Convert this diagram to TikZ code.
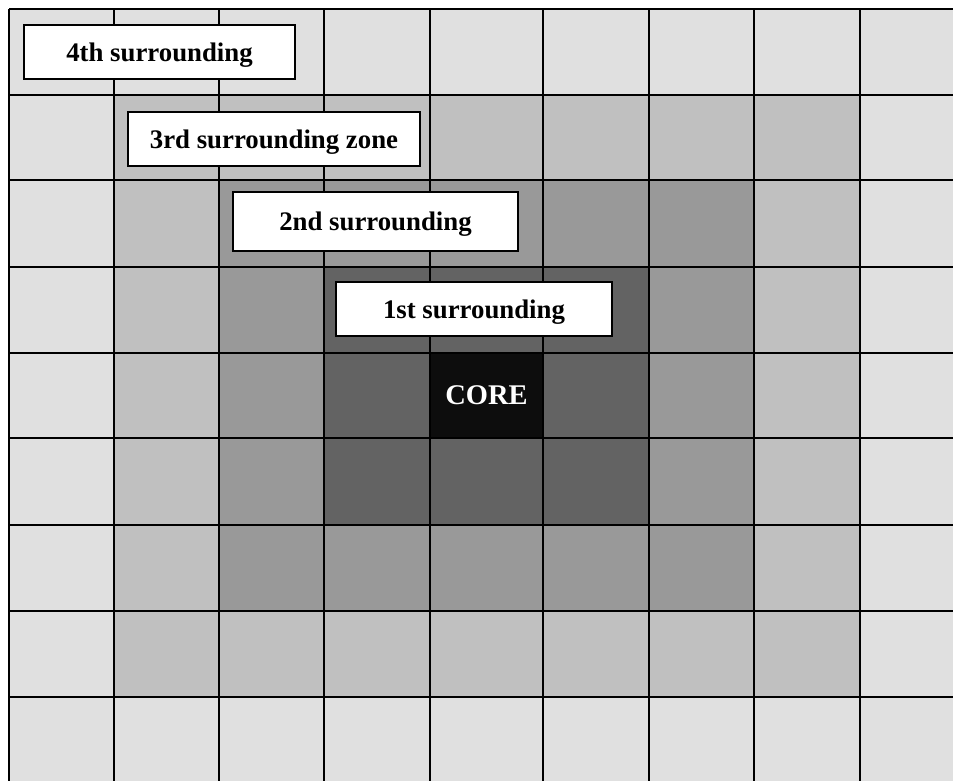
\documentclass[tikz,border=0pt]{standalone}
\usepackage{fontspec}
\setmainfont{Liberation Serif}
\definecolor{lv0}{HTML}{0D0D0D}
\definecolor{lv1}{HTML}{636363}
\definecolor{lv2}{HTML}{999999}
\definecolor{lv3}{HTML}{C0C0C0}
\definecolor{lv4}{HTML}{E0E0E0}
\begin{document}
\begin{tikzpicture}[x=1pt,y=-1pt,
  zonelabel/.style={draw=black, line width=1.6pt, fill=white, inner sep=0pt,
    text depth=0pt, font=\fontsize{26.8}{30}\selectfont\bfseries, align=center},
  gridline/.style={draw=black, line width=2pt}]
\useasboundingbox (0,0) rectangle (953,780);
\clip (0,0) rectangle (953,780);
\fill[white] (0,0) rectangle (953,780);
% cells
\foreach \i/\xa/\xb in {0/9/114,1/114/219,2/219/324,3/324/430,4/430/543,5/543/649,6/649/754,7/754/860,8/860/965}{
  \foreach \j/\ya/\yb in {0/9/95,1/95/180,2/180/267,3/267/353,4/353/438,5/438/525,6/525/611,7/611/697,8/697/783}{
    \pgfmathtruncatemacro{\lv}{max(abs(\i-4),abs(\j-4))}
    \fill[lv\lv] (\xa,\ya) rectangle (\xb,\yb);
  }
}
% grid lines
\foreach \x in {9,114,219,324,430,543,649,754,860}{
  \draw[gridline] (\x,9) -- (\x,790);
}
\foreach \y in {9,95,180,267,353,438,525,611,697}{
  \draw[gridline] (9,\y) -- (960,\y);
}
% labels
\node[zonelabel, minimum width=271pt, minimum height=54pt] (z4) at (159.5,52) {4th surrounding};
\node[zonelabel, minimum width=292pt, minimum height=54pt] (z3) at (274,139) {3rd surrounding zone};
\node[zonelabel, minimum width=285pt, minimum height=59pt] (z2) at (375.5,221.5) {2nd surrounding};
\node[zonelabel, minimum width=276pt, minimum height=54pt] (z1) at (474,309) {1st surrounding};
\node[text=white, font=\fontsize{28.5}{32}\selectfont\bfseries, inner sep=0pt] (core) at (486.5,395.5) {CORE};
\end{tikzpicture}
\end{document}
